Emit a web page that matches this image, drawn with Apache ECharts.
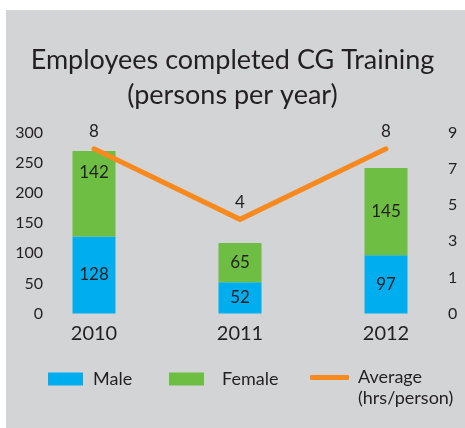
<!DOCTYPE html>
<html>
<head>
<meta charset="utf-8">
<script src="https://cdn.jsdelivr.net/npm/echarts@6/dist/echarts.min.js"></script>
<style>
  html, body { margin: 0; padding: 0; background: #fff; }
  #chart { width: 465px; height: 428px; }
</style>
</head>
<body>
<div id="chart"></div>
<script>
// Data
const years = ['2010', '2011', '2012'];
const male = [128, 52, 97];
const female = [142, 65, 145];
const average = [8, 4, 8];
const rightTicks = ['0', '1', '3', '5', '7', '9'];

const FONT = 'Lato';
const TEXT = '#231f20';
const COLORS = { male: '#00aeef', female: '#6fbe44', avg: '#f7891f', bg: '#d3d4d6' };

const chart = echarts.init(document.getElementById('chart'));

// first female value sits near the top of its segment, others centred
const femaleData = female.map((v, i) => i === 0
    ? { value: v, label: { position: 'insideTop', distance: 13 } }
    : v);

const legendBase = {
    orient: 'horizontal', itemHeight: 13, itemWidth: 35, padding: 0,
    textStyle: { fontFamily: FONT, fontSize: 18, color: TEXT }
};

chart.setOption({
    backgroundColor: '#fff',
    animation: false,
    textStyle: { fontFamily: FONT, color: TEXT },
    graphic: [{
        type: 'rect', z: -10, silent: true,
        shape: { x: 6, y: 10, width: 470, height: 430 },
        style: { fill: COLORS.bg }
    }],
    title: {
        text: 'Employees completed CG Training\n(persons per year)',
        left: 'center', top: 38,
        textStyle: { fontFamily: FONT, fontSize: 27, fontWeight: 'normal', color: TEXT, lineHeight: 35 }
    },
    grid: { left: 21, right: 6, top: 133, bottom: 114.5, containLabel: false },
    legend: [
        { ...legendBase, left: 48, top: 370, icon: 'rect', data: ['Male'],
          textStyle: { ...legendBase.textStyle, padding: [0, 0, 0, 5] } },
        { ...legendBase, left: 169, top: 370, icon: 'rect', data: ['Female'],
          textStyle: { ...legendBase.textStyle, padding: [0, 0, 0, 13] } },
        // blank first line keeps the icon level with "Average"
        { ...legendBase, left: 310, top: 346, icon: 'roundRect', itemWidth: 39, itemHeight: 5,
          data: ['Average'], formatter: () => ' \nAverage\n(hrs/person)',
          textStyle: { ...legendBase.textStyle, lineHeight: 21, padding: [0, 0, 0, 4] } }
    ],
    xAxis: {
        type: 'category', data: years,
        axisLine: { show: false }, axisTick: { show: false },
        axisLabel: { fontFamily: FONT, fontSize: 20, color: TEXT, margin: 10 }
    },
    yAxis: [
        {
            type: 'value', min: 0, max: 300, interval: 50, position: 'left',
            splitLine: { show: false }, axisLine: { show: false }, axisTick: { show: false },
            axisLabel: { fontFamily: FONT, fontSize: 16, color: TEXT, margin: -22 }
        },
        {
            type: 'value', min: 0, max: 5, interval: 1, position: 'right',
            splitLine: { show: false }, axisLine: { show: false }, axisTick: { show: false },
            axisLabel: { fontFamily: FONT, fontSize: 16, color: TEXT, margin: -11,
                formatter: v => rightTicks[v] }
        },
        { type: 'value', min: -1.34, max: 8.9, show: false }
    ],
    series: [
        {
            name: 'Male', type: 'bar', stack: 'emp', data: male, barWidth: 43,
            itemStyle: { color: COLORS.male },
            label: { show: true, position: 'inside', fontFamily: FONT, fontSize: 17, color: TEXT }
        },
        {
            name: 'Female', type: 'bar', stack: 'emp', data: femaleData, barWidth: 43,
            itemStyle: { color: COLORS.female },
            label: { show: true, position: 'inside', fontFamily: FONT, fontSize: 17, color: TEXT }
        },
        {
            name: 'Average', type: 'line', yAxisIndex: 2, data: average,
            symbol: 'circle', symbolSize: 1, showSymbol: true,
            itemStyle: { color: COLORS.avg },
            lineStyle: { color: COLORS.avg, width: 5, cap: 'round', join: 'miter' },
            label: { show: true, position: 'top', distance: 8, fontFamily: FONT, fontSize: 17, color: TEXT },
            z: 5
        }
    ]
});
</script>
</body>
</html>
